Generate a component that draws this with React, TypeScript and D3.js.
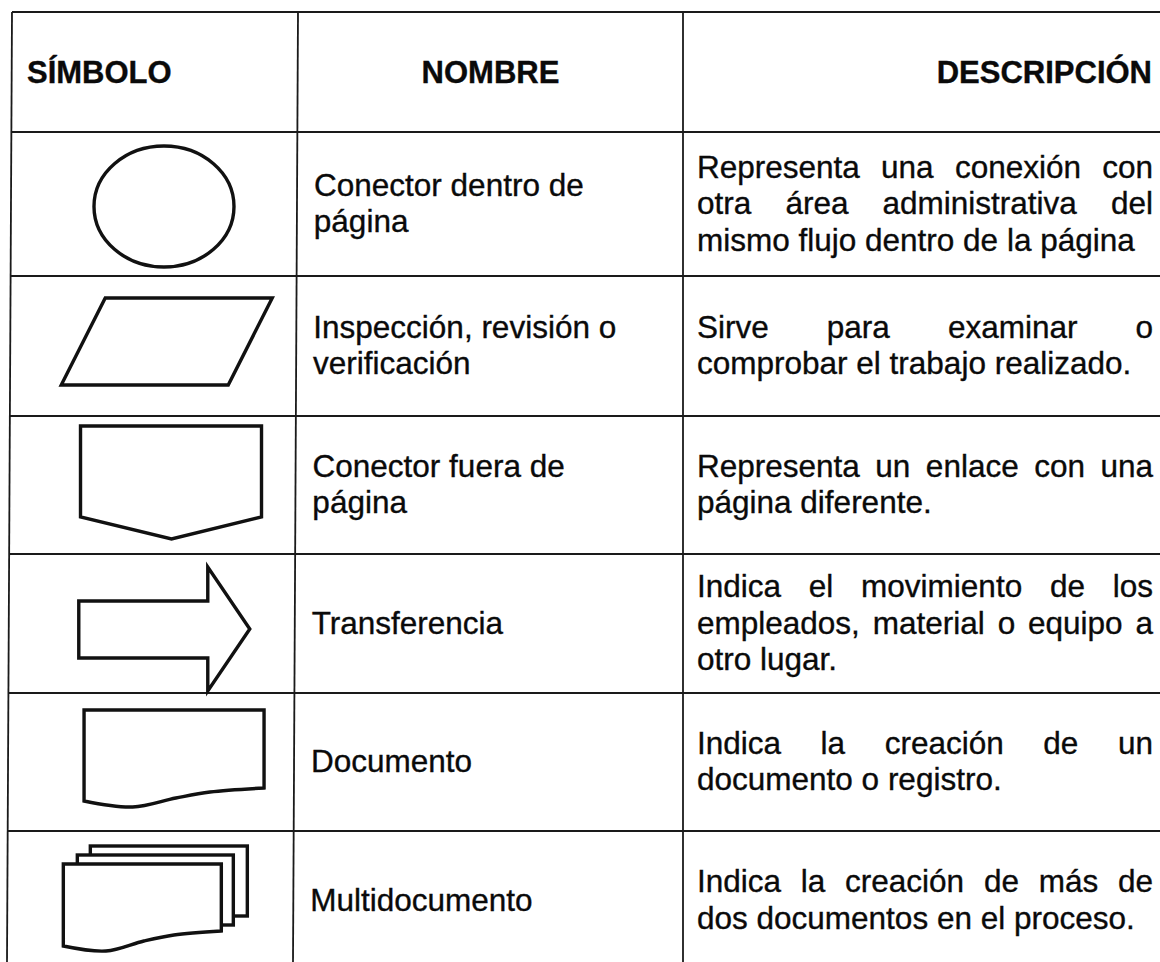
import React, { useEffect, useRef } from 'react';
import * as d3 from 'd3';

const headers = ['SÍMBOLO', 'NOMBRE', 'DESCRIPCIÓN'];

const symbols = ['circulo', 'paralelogramo', 'fuera', 'flecha', 'documento', 'multidocumento'];

const names = [
  ['Conector dentro de', 'página'],
  ['Inspección, revisión o', 'verificación'],
  ['Conector fuera de', 'página'],
  ['Transferencia'],
  ['Documento'],
  ['Multidocumento'],
];

const descriptions = [
  ['Representa una conexión con', 'otra área administrativa del', 'mismo flujo dentro de la página'],
  ['Sirve para examinar o', 'comprobar el trabajo realizado.'],
  ['Representa un enlace con una', 'página diferente.'],
  ['Indica el movimiento de los', 'empleados, material o equipo a', 'otro lugar.'],
  ['Indica la creación de un', 'documento o registro.'],
  ['Indica la creación de más de', 'dos documentos en el proceso.'],
];

const W = 1160;
const H = 962;
const FONT = '"Liberation Sans", Arial, Helvetica, sans-serif';

// page with a wavy bottom edge (document symbol)
function docPath(x0: number, x1: number, yTop: number, yR: number, yL: number, dip: number) {
  const w = x1 - x0;
  const wave = d3.line().curve(d3.curveCatmullRom)([
    [x1, yR],
    [x0 + 0.7 * w, yR + 4],
    [x0 + 0.51 * w, yR + 10],
    [x0 + 0.27 * w, yL + dip],
    [x0, yL],
  ]) as string;
  return `M${x0},${yL}V${yTop}H${x1}V${yR}` + wave.replace(/^M[^C]*/, '') + 'Z';
}

function drawSymbol(g: any, kind: string) {
  const poly = (pts: number[][]) =>
    g.append('path').attr('d', (d3.line()(pts as [number, number][]) as string) + 'Z');

  if (kind === 'circulo') {
    g.append('ellipse').attr('cx', 165).attr('cy', 74.5).attr('rx', 70).attr('ry', 60.5);
  } else if (kind === 'paralelogramo') {
    poly([[107, 22], [274, 22], [230, 109], [63, 109]]);
  } else if (kind === 'fuera') {
    poly([[83, 10], [264, 10], [264, 101], [174, 123], [83, 101]]);
  } else if (kind === 'flecha') {
    poly([[82, 47], [211, 47], [211, 13], [253, 75], [211, 137], [211, 104], [82, 104]]);
  } else if (kind === 'documento') {
    g.append('path').attr('d', docPath(88, 268, 17, 95, 108, 6));
  } else if (kind === 'multidocumento') {
    g.append('rect').attr('x', 95).attr('y', 15).attr('width', 157).attr('height', 70);
    g.append('rect').attr('x', 82).attr('y', 24).attr('width', 156).attr('height', 70);
    g.append('path').attr('d', docPath(68, 226, 33, 100, 115, 5));
  }
}

export default function App() {
  const svgRef = useRef<SVGSVGElement>(null);

  useEffect(() => {
    document.body.style.margin = '0';
    const svg = d3.select(svgRef.current);
    svg.selectAll('*').remove();

    const rowEdges = [12, 132, 276, 416, 554, 693, 831, 970];
    const colX = [12, 298, 683];
    const descRight = 1153;
    const lineH = 36.5;
    // the scan leans a little: left columns drift left going down
    const drift = d3.scaleLinear().domain([12, 962]).range([0, -5]);

    svg.append('rect').attr('width', W).attr('height', H).attr('fill', '#fff');

    const grid = svg.append('g').attr('stroke', '#1a1a1a').attr('stroke-width', 1.8);
    rowEdges.slice(0, -1).forEach((y) => {
      grid.append('line')
        .attr('x1', colX[0] + drift(y)).attr('x2', W + 2)
        .attr('y1', y).attr('y2', y);
    });
    [colX[0], colX[1]].forEach((x) => {
      grid.append('line').attr('x1', x).attr('y1', 12).attr('x2', x + drift(H)).attr('y2', H);
    });
    grid.append('line').attr('x1', colX[2]).attr('y1', 12).attr('x2', colX[2]).attr('y2', H);

    const text = svg.append('g')
      .attr('font-family', FONT)
      .attr('fill', '#0a0a0a')
      .attr('stroke', '#0a0a0a')
      .attr('stroke-width', 0.35);

    // header
    const headY = (rowEdges[0] + rowEdges[1]) / 2 + 11;
    const head = text.append('g').attr('font-size', 31).attr('font-weight', 'bold');
    head.append('text').attr('x', colX[0] + 15).attr('y', headY).text(headers[0]);
    head.append('text').attr('x', (colX[1] + colX[2]) / 2).attr('y', headY)
      .attr('text-anchor', 'middle').text(headers[1]);
    head.append('text').attr('x', descRight - 1).attr('y', headY)
      .attr('text-anchor', 'end').text(headers[2]);

    const body = text.append('g').attr('font-size', 31.5);

    const justified = (line: string, x0: number, x1: number, y: number) => {
      const words = line.split(' ');
      const nodes = words.map((w) => body.append('text').attr('y', y).text(w));
      const widths = nodes.map((n) => (n.node() as SVGTextElement).getComputedTextLength());
      const gap = (x1 - x0 - d3.sum(widths)) / Math.max(1, words.length - 1);
      let x = x0;
      nodes.forEach((n, k) => {
        n.attr('x', x);
        x += widths[k] + gap;
      });
    };

    symbols.forEach((kind, i) => {
      const top = rowEdges[i + 1];
      const mid = (top + rowEdges[i + 2]) / 2;
      const base = mid + 10;

      const sym = svg.append('g')
        .attr('transform', `translate(${drift(mid)},${top})`)
        .attr('fill', '#fff')
        .attr('stroke', '#111')
        .attr('stroke-width', 3.4)
        .attr('stroke-linejoin', 'miter');
      drawSymbol(sym, kind);

      const nm = names[i];
      nm.forEach((line, j) => {
        const y = base + (j - (nm.length - 1) / 2) * lineH;
        body.append('text').attr('x', colX[1] + 17 + drift(y)).attr('y', y).text(line);
      });

      const ds = descriptions[i];
      ds.forEach((line, j) => {
        const y = base + (j - (ds.length - 1) / 2) * lineH;
        if (j < ds.length - 1) justified(line, colX[2] + 14, descRight, y);
        else body.append('text').attr('x', colX[2] + 14).attr('y', y).text(line);
      });
    });
  }, []);

  return <svg ref={svgRef} width={W} height={H} style={{ display: 'block' }} />;
}
